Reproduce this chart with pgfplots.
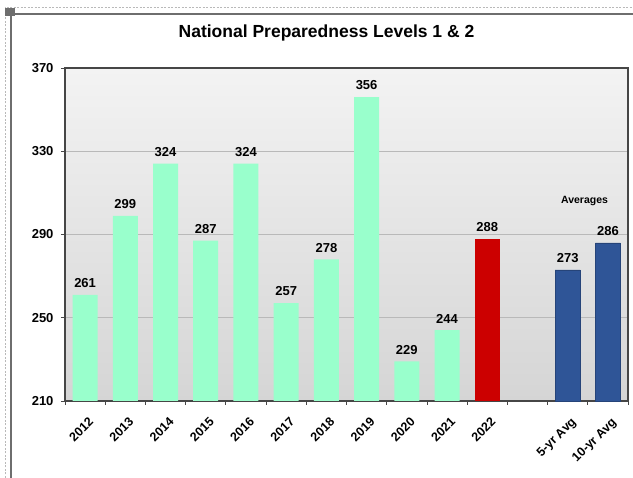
\documentclass[border=0pt]{standalone}
\usepackage{fontspec}
\setmainfont{Liberation Sans}
\usepackage{pgfplots}
\usepackage{pgfplotstable}
\pgfplotsset{compat=1.18}

\definecolor{mint}{RGB}{153,255,204}
\definecolor{npred}{RGB}{204,0,0}
\definecolor{npblue}{RGB}{47,85,151}
\definecolor{gridgray}{RGB}{185,185,185}
\definecolor{axisgray}{RGB}{70,70,70}
\definecolor{framegray}{RGB}{110,110,110}

% 2012..2021 (green), 2022 (red), averages (blue)
\pgfplotstableread{
x y
0 261
1 299
2 324
3 287
4 324
5 257
6 278
7 356
8 229
9 244
}\pastyears
\pgfplotstableread{
x y
10 288
}\thisyear
\pgfplotstableread{
x y
12 273
13 286
}\averages

\begin{document}
\begin{tikzpicture}
\path[use as bounding box] (0pt,0pt) rectangle (633pt,478pt);

% outer frame bits
\draw[gray!55, dash pattern=on 2pt off 1.5pt, line width=0.8pt] (5pt,0pt) -- (5pt,471pt) -- (633pt,471pt);
\draw[framegray, line width=2.2pt] (11pt,0pt) -- (11pt,464pt) -- (633pt,464pt);
\fill[framegray] (5pt,462pt) rectangle (15pt,470pt);

\node[anchor=base, font=\fontsize{17.5}{20}\selectfont\bfseries] at (326.5pt,440.3pt)
  {National Preparedness Levels 1 \& 2};

\begin{axis}[
    at={(65pt,77pt)}, anchor=south west,
    scale only axis,
    width=563pt, height=333pt,
    xmin=-0.5, xmax=13.5,
    ymin=210, ymax=370,
    ytick={210,250,290,330,370},
    xtick={0,...,13},
    xticklabels={2012,2013,2014,2015,2016,2017,2018,2019,2020,2021,2022,,5-yr Avg,10-yr Avg},
    minor xtick={-0.5,0.5,...,13.5},
    xtick pos=bottom, ytick pos=left,
    major x tick style={draw=none},
    minor x tick style={axisgray, line width=0.8pt},
    major y tick style={axisgray, line width=0.8pt},
    tick align=outside,
    major tick length=4pt,
    minor tick length=4pt,
    ymajorgrids,
    grid style={gridgray, line width=0.8pt},
    axis line style={axisgray, line width=1.5pt},
    axis background/.style={top color={rgb,255:red,243;green,243;blue,243}, bottom color={rgb,255:red,213;green,213;blue,213}},
    /pgf/number format/assume math mode=true,
    yticklabel style={font=\fontsize{13}{15}\selectfont\bfseries, xshift=-4pt},
    xticklabel style={rotate=45, anchor=north east, inner sep=0pt, xshift=-6pt, yshift=-10pt,
        font=\fontsize{12.5}{14}\selectfont\bfseries},
    ybar, bar shift=0pt, bar width=25pt,
    nodes near coords,
    every node near coord/.append style={font=\fontsize{13}{15}\selectfont\bfseries,
        anchor=south, inner sep=0pt, yshift=7pt, black},
    clip=false,
]
\addplot[fill=mint, draw=none] table[x=x, y=y] {\pastyears};
\addplot[fill=npred, draw=none] table[x=x, y=y] {\thisyear};
\addplot[fill=npblue, draw=npblue!80!black, line width=0.5pt] table[x=x, y=y] {\averages};
\node[anchor=base, font=\fontsize{10.5}{12}\selectfont\bfseries] at (axis cs:12.42,305) {Averages};
\end{axis}
\end{tikzpicture}
\end{document}
